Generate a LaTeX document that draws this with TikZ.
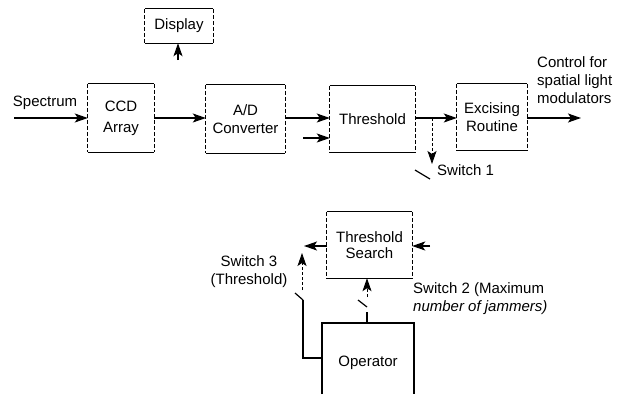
\documentclass[tikz,border=0pt]{standalone}
\usepackage{fontspec}
\setmainfont{Liberation Sans}
\usetikzlibrary{arrows.meta,calc}
\newcommand\skbox[1]{%
  \draw[line width=1.3pt] (#1.north west)--(#1.north east) (#1.south west)--(#1.south east);
  \draw[line width=0.7pt, dash pattern=on 4pt off 2pt] (#1.north west)--(#1.south west) (#1.north east)--(#1.south east);}
\begin{document}
\begin{tikzpicture}[x=1pt,y=-1pt,
  every node/.style={font=\fontsize{15}{18}\selectfont, inner sep=0pt},
  blk/.style={align=center},
  tip/.style={-{Stealth[length=13pt,width=9pt,inset=3pt]}},
  conn/.style={line width=1.2pt, tip},
  ln/.style={line width=1.2pt},
  dsh/.style={line width=0.9pt, dash pattern=on 3pt off 2pt},
]
\clip (0,0) rectangle (621,394);
\fill[white] (0,0) rectangle (621,394);

% top row boxes
\node[blk, minimum width=68pt, minimum height=34pt] (disp) at (179,26) {Display};
\node[blk, minimum width=66pt, minimum height=68pt, font=\fontsize{15}{21}\selectfont] (ccd) at (121,118) {CCD\\Array};
\node[blk, minimum width=79pt, minimum height=68pt] (ad) at (245.5,119) {A/D\\Converter};
\node[blk, minimum width=85pt, minimum height=66pt] (thr) at (372.5,119) {Threshold};
\node[blk, minimum width=70pt, minimum height=66pt] (exc) at (492,117) {Excising\\Routine};
\skbox{disp}\skbox{ccd}\skbox{ad}\skbox{thr}\skbox{exc}

% top row connectors
\coordinate (spin) at (14,118);
\node (spec) at (45,103) {Spectrum};
\draw[conn] (spin) -- (spin -| ccd.west);
\draw[conn] (ccd.east |- 0,118) -- (ad.west |- 0,118);
\draw[conn] (ad.east |- 0,118) -- (thr.west |- 0,118);
\coordinate (ad2) at (303,138);
\draw[conn] (ad2) -- (ad2 -| thr.west);
\draw[conn] (thr.east |- 0,118) -- (exc.west |- 0,118);
\coordinate (out) at (581,118);
\draw[conn] (exc.east |- 0,118) -- (out);
\coordinate (dispin) at (178,60);
\draw[conn] (dispin) -- (dispin |- disp.south);
\node[align=left, anchor=west] (ctrl) at (537,80) {Control for\\spatial light\\modulators};

% switch 1
\coordinate (sw1a) at (432,118);
\coordinate (sw1b) at (432,164);
\draw[dsh, tip] (sw1a) -- (sw1b);
\coordinate (s1p) at (415,170);
\coordinate (s1q) at (430,179);
\draw[ln] (s1p) -- (s1q);
\node[anchor=west] (s1t) at (437,170) {Switch 1};

% lower part
\node[blk, minimum width=85pt, minimum height=66pt, font=\fontsize{15}{16}\selectfont] (ts) at (369.5,245) {Threshold\\Search};
\skbox{ts}
\coordinate (tsin) at (430,246);
\draw[conn] (tsin) -- (tsin -| ts.east);
\coordinate (tsout) at (304,246);
\draw[conn] (ts.west |- tsout) -- (tsout);

\node (op) at (368,363) {Operator};
\draw[line width=1.3pt] (322,394) -- (322,323) -- (414,323) -- (414,394);
\coordinate (optop) at (367,323);
\coordinate (opleft) at (322,358);

% switch 3
\coordinate (s3a) at (302,290);
\coordinate (s3b) at (302,253);
\draw[dsh, tip] (s3a) -- (s3b);
\draw[ln] (295,293) -- (303,300);
\draw[ln] (303,300) -- (303,358) -- (opleft);
\node[align=center] (s3t) at (249,272) {Switch 3\\(Threshold)};

% switch 2
\coordinate (s2a) at (367,297);
\draw[dsh, tip] (s2a) -- (s2a |- ts.south);
\draw[ln] (358,300) -- (367,307);
\draw[ln] (367,312) -- (optop);
\node[align=left, anchor=west] (s2t) at (413,299) {Switch 2 (Maximum\\\itshape number of jammers)};
\end{tikzpicture}
\end{document}
